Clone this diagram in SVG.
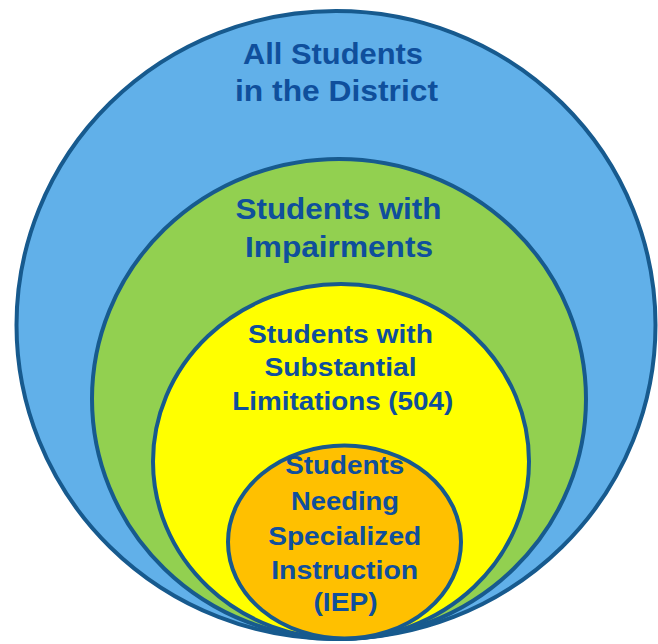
<svg xmlns="http://www.w3.org/2000/svg" width="658" height="644" viewBox="0 0 658 644">
  <style>
    .ring { stroke: #175A8E; stroke-width: 4; }
    .label { font-family: "Liberation Sans", Arial, sans-serif; font-weight: bold; fill: #0F4F9C; text-anchor: middle; }
  </style>
  <rect width="658" height="644" fill="#FFFFFF"/>

  <!-- outermost set -->
  <g id="all-students">
    <ellipse class="ring" cx="336" cy="325" rx="319.5" ry="314" fill="#61B0E9"/>
    <text class="label" font-size="29" x="333" y="63.5" textLength="180" lengthAdjust="spacingAndGlyphs">All Students</text>
    <text class="label" font-size="29" x="336.5" y="100.5" textLength="203" lengthAdjust="spacingAndGlyphs">in the District</text>
  </g>

  <g id="impairments">
    <ellipse class="ring" cx="339" cy="399" rx="247" ry="240" fill="#92D050"/>
    <text class="label" font-size="30" x="338.5" y="218.5" textLength="206" lengthAdjust="spacingAndGlyphs">Students with</text>
    <text class="label" font-size="30" x="339" y="256.5" textLength="188" lengthAdjust="spacingAndGlyphs">Impairments</text>
  </g>

  <g id="section-504">
    <ellipse class="ring" cx="341" cy="461.5" rx="188" ry="177.5" fill="#FFFF00"/>
    <text class="label" font-size="26.5" x="340.5" y="342.5" textLength="185" lengthAdjust="spacingAndGlyphs">Students with</text>
    <text class="label" font-size="26.5" x="340.5" y="376" textLength="152" lengthAdjust="spacingAndGlyphs">Substantial</text>
    <text class="label" font-size="26.5" x="342.8" y="410" textLength="221" lengthAdjust="spacingAndGlyphs">Limitations (504)</text>
  </g>

  <g id="iep">
    <ellipse class="ring" cx="344.5" cy="542" rx="116.5" ry="96.5" fill="#FFC000"/>
    <text class="label" font-size="25.5" x="344.7" y="474" textLength="119" lengthAdjust="spacingAndGlyphs">Students</text>
    <text class="label" font-size="25.5" x="345" y="509.5" textLength="108" lengthAdjust="spacingAndGlyphs">Needing</text>
    <text class="label" font-size="25.5" x="344.7" y="544.5" textLength="153" lengthAdjust="spacingAndGlyphs">Specialized</text>
    <text class="label" font-size="25.5" x="344.7" y="578.7" textLength="147" lengthAdjust="spacingAndGlyphs">Instruction</text>
    <text class="label" font-size="25.5" x="345.5" y="611" textLength="64" lengthAdjust="spacingAndGlyphs">(IEP)</text>
  </g>

  <g id="connectors"></g>
</svg>
